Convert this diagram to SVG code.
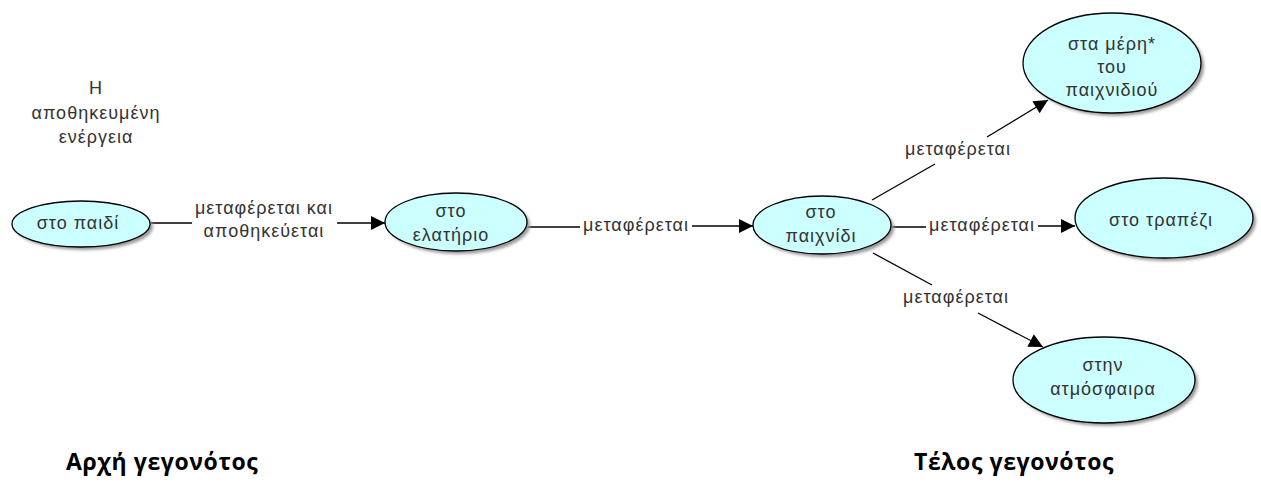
<svg xmlns="http://www.w3.org/2000/svg" width="1261" height="482" viewBox="0 0 1261 482">
<defs>
<filter id="sh" x="-20%" y="-20%" width="150%" height="150%">
<feGaussianBlur stdDeviation="1.5"/>
</filter>
<marker id="arr" viewBox="0 0 10 10" refX="10" refY="5" markerWidth="23" markerHeight="14" markerUnits="userSpaceOnUse" orient="auto">
<path d="M0,0 L10,5 L0,10 Z" fill="#000"/>
</marker>
</defs>
<style>
.node ellipse.e{fill:#ccffff;stroke:#000;stroke-width:1.3}
.node ellipse.s{fill:#999;filter:url(#sh)}
.t{font-family:"Liberation Sans",Arial,sans-serif;font-size:18px;letter-spacing:1px;fill:#333;text-anchor:middle}
.c line{stroke:#000;stroke-width:1.3}
.b{font-family:"Open Sans","Noto Sans",sans-serif;font-size:23px;font-weight:bold;letter-spacing:0.6px;fill:#000}
</style>
<rect width="1261" height="482" fill="#fff"/>
<text class="t"><tspan x="96" y="94">Η</tspan><tspan x="96" y="119">αποθηκευμένη</tspan><tspan x="96" y="143">ενέργεια</tspan></text>
<g class="c" id="connectors">
<line x1="150" y1="223" x2="192" y2="223"/>
<line x1="337" y1="223" x2="385" y2="223" marker-end="url(#arr)"/>
<text class="t"><tspan x="264" y="214">μεταφέρεται και</tspan><tspan x="264" y="237">αποθηκεύεται</tspan></text>
<line x1="527" y1="227" x2="580" y2="227"/>
<line x1="692" y1="226" x2="753" y2="226" marker-end="url(#arr)"/>
<text class="t" x="636" y="231">μεταφέρεται</text>
<line x1="892" y1="227" x2="926" y2="227"/>
<line x1="1038" y1="226" x2="1075" y2="226" marker-end="url(#arr)"/>
<text class="t" x="982" y="231">μεταφέρεται</text>
<line x1="872" y1="200" x2="935" y2="164"/>
<line x1="987" y1="137" x2="1048" y2="100" marker-end="url(#arr)"/>
<text class="t" x="958" y="155">μεταφέρεται</text>
<line x1="873" y1="253" x2="932" y2="285"/>
<line x1="978" y1="313" x2="1043" y2="347" marker-end="url(#arr)"/>
<text class="t" x="956" y="303">μεταφέρεται</text>
</g>
<g class="node" id="n1"><ellipse class="s" cx="84" cy="227" rx="69" ry="23"/><ellipse class="e" cx="81" cy="224" rx="69" ry="23"/><text class="t" x="78" y="229">στο παιδί</text></g>
<g class="node" id="n2"><ellipse class="s" cx="459" cy="225" rx="71" ry="29"/><ellipse class="e" cx="456" cy="222" rx="71" ry="29"/><text class="t"><tspan x="451" y="217">στο</tspan><tspan x="451" y="241">ελατήριο</tspan></text></g>
<g class="node" id="n3"><ellipse class="s" cx="825" cy="228" rx="69" ry="29"/><ellipse class="e" cx="822" cy="225" rx="69" ry="29"/><text class="t"><tspan x="821" y="218">στο</tspan><tspan x="821" y="242">παιχνίδι</tspan></text></g>
<g class="node" id="n4"><ellipse class="s" cx="1115" cy="66" rx="89" ry="50"/><ellipse class="e" cx="1112" cy="63" rx="89" ry="50"/><text class="t"><tspan x="1112" y="50">στα μέρη*</tspan><tspan x="1112" y="73">του</tspan><tspan x="1112" y="96">παιχνιδιού</tspan></text></g>
<g class="node" id="n5"><ellipse class="s" cx="1167" cy="221" rx="89" ry="40"/><ellipse class="e" cx="1164" cy="218" rx="89" ry="40"/><text class="t" x="1161" y="226">στο τραπέζι</text></g>
<g class="node" id="n6"><ellipse class="s" cx="1107" cy="383" rx="91" ry="43"/><ellipse class="e" cx="1104" cy="380" rx="91" ry="43"/><text class="t"><tspan x="1103" y="371">στην</tspan><tspan x="1103" y="395">ατμόσφαιρα</tspan></text></g>
<text class="b" x="66" y="470">Αρχή γεγονότος</text>
<text class="b" x="914" y="470">Τέλος γεγονότος</text>
</svg>
